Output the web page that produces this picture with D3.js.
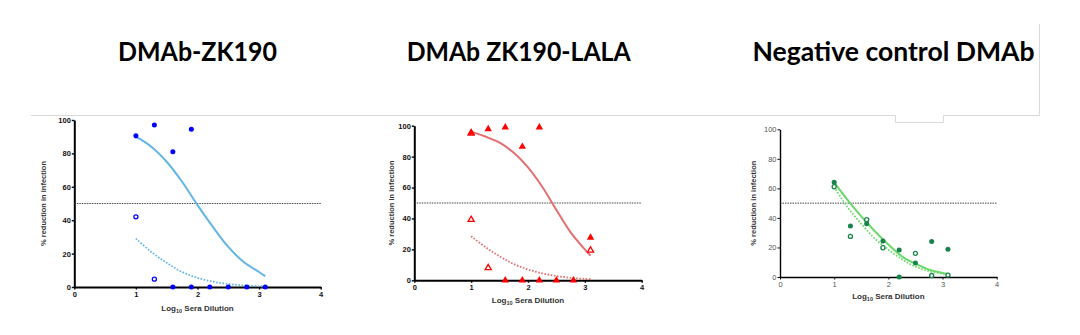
<!DOCTYPE html>
<html>
<head>
<meta charset="utf-8">
<script src="https://cdn.jsdelivr.net/npm/d3@7"></script>
<style>
html,body{margin:0;padding:0;background:#fff;}
svg{display:block;}
</style>
</head>
<body>
<svg id="chart" width="1080" height="335"></svg>
<script>
// ---------- data ----------
const titles = ["DMAb-ZK190", "DMAb ZK190-LALA", "Negative control DMAb"];
const xTicks = [0, 1, 2, 3, 4];
const yTicks = [0, 20, 40, 60, 80, 100];
const thresholdValue = [50];
const fitX = [1, 1.25, 1.5, 1.75, 2, 2.25, 2.5, 2.75, 3, 3.1];

// Panel 1: DMAb-ZK190
const zk190FilledX = [1, 1.3, 1.6, 1.9, 1.6, 1.9, 2.2, 2.5, 2.8, 3.1];
const zk190FilledY = [90.5, 97, 81, 94.5, 0, 0, 0, 0, 0, 0];
const zk190OpenX = [1, 1.3];
const zk190OpenY = [42, 4.7];
const zk190FitFilled = [90, 84, 75, 63, 49, 36, 24, 15, 9, 6.5];
const zk190FitOpen = [29, 21, 14.5, 9, 5.5, 3.2, 1.8, 1, 0.5, 0.4];

// Panel 2: DMAb ZK190-LALA
const lalaFilledX = [1, 1.3, 1.6, 1.9, 2.2, 3.1, 1.6, 1.9, 2.2, 2.5, 2.8];
const lalaFilledY = [95.5, 97.8, 99, 86.4, 99, 27.6, 0, 0, 0, 0, 0];
const lalaOpenX = [1, 1, 1.3, 3.1];
const lalaOpenY = [95, 39.2, 8, 19.4];
const lalaFitFilled = [96, 93, 89, 82.5, 73, 60.5, 45.5, 31, 20, 16];
const lalaFitOpen = [28.5, 21.5, 15.5, 10.5, 7, 4.5, 2.8, 1.6, 0.9, 0.7];

// Panel 3: Negative control DMAb
const negFilledX = [1, 1.3, 1.6, 1.9, 2.2, 2.2, 2.5, 2.8, 3.1];
const negFilledY = [64.1, 34.5, 36.1, 24.4, 18.3, 0, 9.5, 24, 18.8];
const negOpenX = [1, 1.3, 1.6, 1.9, 2.5, 2.8, 3.1];
const negOpenY = [61.1, 27.5, 38.8, 19.8, 16, 1, 1.3];
const negFitFilled = [64, 52, 41, 31, 22, 14, 9, 5, 2.8, 2];
const negFitOpen = [61, 47, 36, 26, 18.5, 12, 7, 4, 2.2, 1.5];

// ---------- layout / style ----------
const svg = d3.select("#chart");

// decorative frame lines (slide background)
svg.append("path")
  .attr("d", "M31,115.5 H895.5 V122.5 H943.5 V115.5 H1039.5 V24")
  .attr("fill", "none").attr("stroke", "#d9d9d9").attr("stroke-width", 1);

const panels = [
  { title: titles[0], tx: 118, tw: 159, x0: 74.3, x1: 320.7, y0: 287, y1: 120,
    ytx: 46, xtY: 311, color: "#0000ff", fitColor: "#62b5e5", marker: "circle",
    fX: zk190FilledX, fY: zk190FilledY, oX: zk190OpenX, oY: zk190OpenY,
    fit: zk190FitFilled, fitO: zk190FitOpen, axisW: 2, bold: true, labelFill: "#111" },
  { title: titles[1], tx: 406.7, tw: 224, x0: 414.3, x1: 641.7, y0: 280.3, y1: 125.7,
    ytx: 394, xtY: 303, color: "#ff0000", fitColor: "#e26f6f", marker: "triangle",
    fX: lalaFilledX, fY: lalaFilledY, oX: lalaOpenX, oY: lalaOpenY,
    fit: lalaFitFilled, fitO: lalaFitOpen, axisW: 2, bold: true, labelFill: "#111" },
  { title: titles[2], tx: 752.5, tw: 282, x0: 780, x1: 996.7, y0: 277, y1: 129.3,
    ytx: 756, xtY: 299, color: "#17834a", fitColor: "#6ad86a", marker: "circle",
    fX: negFilledX, fY: negFilledY, oX: negOpenX, oY: negOpenY,
    fit: negFitFilled, fitO: negFitOpen, axisW: 1.4, bold: false, labelFill: "#555" }
];

panels.forEach(p => {
  // title
  svg.append("text")
    .attr("x", p.tx).attr("y", 61)
    .attr("font-family", "Lato, 'Open Sans', sans-serif")
    .attr("font-weight", 700).attr("font-size", 26)
    .attr("textLength", p.tw).attr("lengthAdjust", "spacingAndGlyphs")
    .attr("fill", "#000")
    .text(p.title);

  const x = d3.scaleLinear().domain([0, 4]).range([p.x0, p.x1]);
  const y = d3.scaleLinear().domain([0, 100]).range([p.y0, p.y1]);
  const g = svg.append("g");

  // axes
  const xAxis = d3.axisBottom(x).tickValues(xTicks).tickFormat(d3.format("d"))
    .tickSize(2.5).tickSizeOuter(0).tickPadding(2);
  const yAxis = d3.axisLeft(y).tickValues(yTicks).tickFormat(d3.format("d"))
    .tickSize(2.5).tickSizeOuter(0).tickPadding(1);
  const gx = g.append("g").attr("transform", `translate(0,${p.y0})`).call(xAxis);
  const gy = g.append("g").attr("transform", `translate(${p.x0},0)`).call(yAxis);
  [gx, gy].forEach(a => {
    a.select(".domain").attr("stroke", "#000").attr("stroke-width", p.axisW);
    a.selectAll(".tick line").attr("stroke", "#000").attr("stroke-width", p.axisW * 0.7);
    a.selectAll(".tick text")
      .attr("font-family", "'Liberation Sans', Arial, sans-serif")
      .attr("font-size", 7.5)
      .attr("font-weight", p.bold ? 700 : 400)
      .attr("fill", p.labelFill);
  });

  // axis titles
  g.append("text")
    .attr("transform", `translate(${p.ytx},${(p.y0 + p.y1) / 2}) rotate(-90)`)
    .attr("text-anchor", "middle")
    .attr("font-family", "'Liberation Sans', Arial, sans-serif")
    .attr("font-size", 7.5).attr("font-weight", 700).attr("fill", "#333")
    .text("% reduction in infection");

  const xt = g.append("text")
    .attr("x", x(2)).attr("y", p.xtY)
    .attr("text-anchor", "middle")
    .attr("font-family", "'Liberation Sans', Arial, sans-serif")
    .attr("font-size", 8).attr("font-weight", 700).attr("fill", "#333");
  xt.append("tspan").text("Log");
  xt.append("tspan").attr("font-size", 5.5).attr("dy", 2).text("10");
  xt.append("tspan").attr("dy", -2).text(" Sera Dilution");

  // 50% threshold line
  g.selectAll(".thr").data(thresholdValue).enter().append("line")
    .attr("x1", x(0)).attr("x2", x(4))
    .attr("y1", d => y(d)).attr("y2", d => y(d))
    .attr("stroke", "#333").attr("stroke-width", 0.9)
    .attr("stroke-dasharray", "1.5,1");

  // fitted curves
  const line = d3.line().x(d => x(d[0])).y(d => y(d[1])).curve(d3.curveCatmullRom.alpha(0.5));
  g.append("path")
    .attr("d", line(fitX.map((v, i) => [v, p.fitO[i]])))
    .attr("fill", "none").attr("stroke", p.fitColor).attr("stroke-width", 1.8)
    .attr("stroke-dasharray", "1.6,1.6");
  g.append("path")
    .attr("d", line(fitX.map((v, i) => [v, p.fit[i]])))
    .attr("fill", "none").attr("stroke", p.fitColor).attr("stroke-width", 2);

  // markers
  const sym = p.marker === "triangle" ? d3.symbolTriangle : d3.symbolCircle;
  const filledSize = p.marker === "triangle" ? 24 : 20;
  const openSize = p.marker === "triangle" ? 16 : 13;
  g.selectAll(".open").data(p.oX.map((v, i) => [v, p.oY[i]])).enter().append("path")
    .attr("transform", d => `translate(${x(d[0])},${y(d[1])})`)
    .attr("d", d3.symbol().type(sym).size(openSize))
    .attr("fill", "#fff").attr("stroke", p.color).attr("stroke-width", 1.3);
  g.selectAll(".filled").data(p.fX.map((v, i) => [v, p.fY[i]])).enter().append("path")
    .attr("transform", d => `translate(${x(d[0])},${y(d[1])})`)
    .attr("d", d3.symbol().type(sym).size(filledSize))
    .attr("fill", p.color);
});
</script>
</body>
</html>
